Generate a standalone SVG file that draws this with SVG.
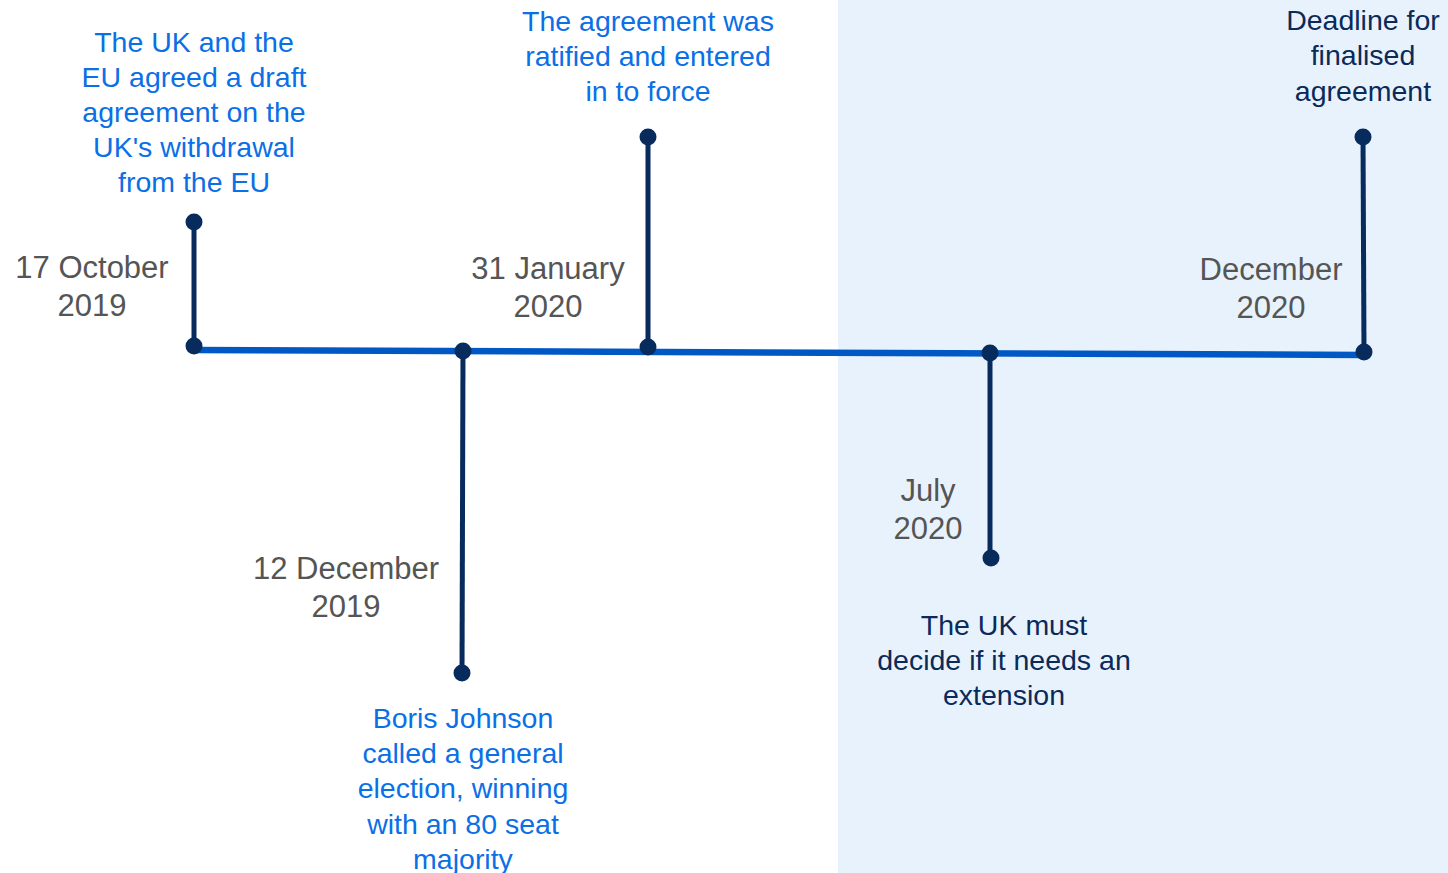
<svg xmlns="http://www.w3.org/2000/svg" width="1448" height="873" viewBox="0 0 1448 873">
<style>
text{font-family:"Liberation Sans",Arial,sans-serif;text-anchor:middle}
.lbl{font-size:28.5px;fill:#0B6FE6}
.lbln{font-size:28.5px;fill:#0A2A5A}
.date{font-size:31px;fill:#555555}
.stem{stroke:#062B5C;stroke-width:5;fill:none}
.dot{fill:#062B5C}
.axis{stroke:#0058C4;stroke-width:6.5;fill:none}
</style>
<rect x="838" y="0" width="610" height="873" fill="#E8F2FD"/>
<g id="connectors">
<line class="axis" x1="194" y1="350" x2="1365" y2="355"/>
<line class="stem" x1="194" y1="222" x2="194" y2="346"/>
<line class="stem" x1="463" y1="351" x2="462" y2="673"/>
<line class="stem" x1="648" y1="137" x2="648" y2="347"/>
<line class="stem" x1="990" y1="353" x2="990" y2="558"/>
<line class="stem" x1="1363" y1="137" x2="1364" y2="352"/>
</g>
<g id="node-oct2019">
<circle class="dot" cx="194" cy="222" r="8.5"/>
<circle class="dot" cx="194" cy="346" r="8.5"/>
<text class="lbl"><tspan x="194" y="52">The UK and the</tspan><tspan x="194" y="87">EU agreed a draft</tspan><tspan x="194" y="122">agreement on the</tspan><tspan x="194" y="157">UK's withdrawal</tspan><tspan x="194" y="192">from the EU</tspan></text>
<text class="date"><tspan x="92" y="278">17 October</tspan><tspan x="92" y="316">2019</tspan></text>
</g>
<g id="node-dec2019">
<circle class="dot" cx="463" cy="351" r="8.5"/>
<circle class="dot" cx="462" cy="673" r="8.5"/>
<text class="date"><tspan x="346" y="579">12 December</tspan><tspan x="346" y="617">2019</tspan></text>
<text class="lbl"><tspan x="463" y="728">Boris Johnson</tspan><tspan x="463" y="763">called a general</tspan><tspan x="463" y="798">election, winning</tspan><tspan x="463" y="834">with an 80 seat</tspan><tspan x="463" y="869">majority</tspan></text>
</g>
<g id="node-jan2020">
<circle class="dot" cx="648" cy="137" r="8.5"/>
<circle class="dot" cx="648" cy="347" r="8.5"/>
<text class="lbl"><tspan x="648" y="31">The agreement was</tspan><tspan x="648" y="66">ratified and entered</tspan><tspan x="648" y="101">in to force</tspan></text>
<text class="date"><tspan x="548" y="279">31 January</tspan><tspan x="548" y="317">2020</tspan></text>
</g>
<g id="node-jul2020">
<circle class="dot" cx="990" cy="353" r="8.5"/>
<circle class="dot" cx="991" cy="558" r="8.5"/>
<text class="date"><tspan x="928" y="501">July</tspan><tspan x="928" y="539">2020</tspan></text>
<text class="lbln"><tspan x="1004" y="635">The UK must</tspan><tspan x="1004" y="670">decide if it needs an</tspan><tspan x="1004" y="705">extension</tspan></text>
</g>
<g id="node-dec2020">
<circle class="dot" cx="1363" cy="137" r="8.5"/>
<circle class="dot" cx="1364" cy="352" r="8.5"/>
<text class="lbln"><tspan x="1363" y="30">Deadline for</tspan><tspan x="1363" y="65">finalised</tspan><tspan x="1363" y="101">agreement</tspan></text>
<text class="date"><tspan x="1271" y="280">December</tspan><tspan x="1271" y="318">2020</tspan></text>
</g>
</svg>
